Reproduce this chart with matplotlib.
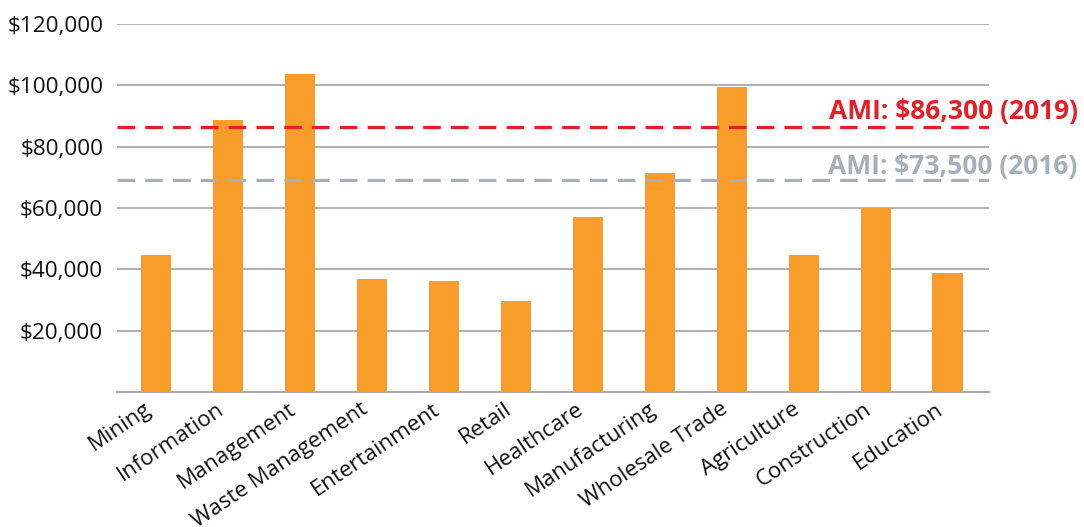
import matplotlib
matplotlib.use("Agg")
import matplotlib.pyplot as plt
import matplotlib.transforms as mtransforms
from matplotlib.ticker import FuncFormatter

plt.rcParams['font.family'] = ['Open Sans', 'DejaVu Sans']

industries = ["Mining", "Information", "Management", "Waste Management",
              "Entertainment", "Retail", "Healthcare", "Manufacturing",
              "Wholesale Trade", "Agriculture", "Construction", "Education"]
wages = [44600, 88600, 103600, 36800, 36200, 29600,
         57000, 71300, 99400, 44600, 60000, 38800]

# AMI reference lines (value where drawn, label text)
ami_2019 = 86500
ami_2019_label = "AMI: $86,300 (2019)"
ami_2016 = 69200
ami_2016_label = "AMI: $73,500 (2016)"

yticks = [20000, 40000, 60000, 80000, 100000, 120000]

bar_color = "#f99d2a"
red = "#e41f28"
grey = "#a9afb6"

fig = plt.figure(figsize=(10.84, 5.27), dpi=100)
ax = fig.add_axes([0.108, 0.256, 0.804, 0.699])

x = range(len(industries))
ax.bar(x, wages, width=0.42, color=bar_color, zorder=3)

ax.set_ylim(0, 120000)
ax.set_xlim(-0.54, 11.57)
ax.set_yticks(yticks)
ax.yaxis.set_major_formatter(FuncFormatter(lambda v, p: f"${v:,.0f}"))
ax.grid(axis="y", color="#9a9a9a", linewidth=1.1, zorder=0)
ax.set_axisbelow(True)

for s in ["top", "right", "left"]:
    ax.spines[s].set_visible(False)
ax.spines["bottom"].set_color("#aaaaaa")
ax.spines["bottom"].set_linewidth(1.5)

ax.tick_params(axis="y", length=0, pad=10, labelsize=16.2, labelcolor="#111111")
ax.tick_params(axis="x", length=0, pad=11)
ax.set_xticks(list(x))
ax.set_xticklabels(industries, rotation=34, ha="right", va="center",
                   rotation_mode="anchor", fontsize=16, color="#111111")
shift = mtransforms.ScaledTranslation(-6 / 100, 0, fig.dpi_scale_trans)
for lbl in ax.get_xticklabels():
    lbl.set_transform(lbl.get_transform() + shift)

ax.axhline(ami_2019, color=red, linewidth=2.3, dashes=(5.5, 3.2), zorder=4)
ax.axhline(ami_2016, color=grey, linewidth=2.3, dashes=(5.5, 3.2), zorder=4)

ax.annotate(ami_2019_label, xy=(1.102, ami_2019), xycoords=("axes fraction", "data"),
            xytext=(0, 1), textcoords="offset points", ha="right", va="bottom",
            fontsize=19, fontweight="bold", color=red, annotation_clip=False)
ax.annotate(ami_2016_label, xy=(1.102, ami_2016), xycoords=("axes fraction", "data"),
            xytext=(0, 0), textcoords="offset points", ha="right", va="bottom",
            fontsize=19, fontweight="bold", color=grey, annotation_clip=False)

fig.savefig("out.png", dpi=100)
